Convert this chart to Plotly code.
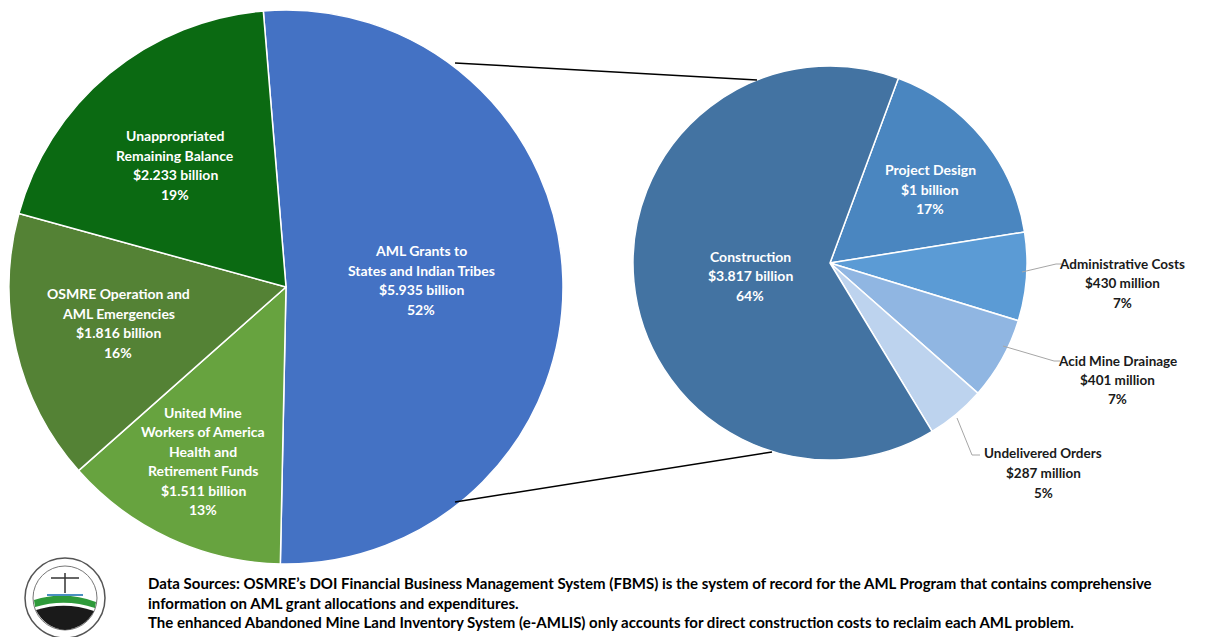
import plotly.graph_objects as go

# ---- Data ----
left_labels = ["AML Grants to<br>States and Indian Tribes",
               "United Mine<br>Workers of America<br>Health and<br>Retirement Funds",
               "OSMRE Operation and<br>AML Emergencies",
               "Unappropriated<br>Remaining Balance"]
left_values = [5.935, 1.511, 1.816, 2.233]          # $ billion
left_pct = [52, 13, 16, 19]
left_colors = ["#4472C4", "#67A33F", "#548235", "#0B6A12"]

right_labels = ["Project Design", "Administrative Costs", "Acid Mine Drainage",
                "Undelivered Orders", "Construction"]
right_values = [1000, 430, 401, 287, 3817]          # $ million
right_text_amounts = ["$1 billion", "$430 million", "$401 million",
                      "$287 million", "$3.817 billion"]
right_pct = [17, 7, 7, 5, 64]
right_colors = ["#4A86C0", "#5B9BD5", "#90B6E2", "#BDD3EE", "#4373A2"]

footnote_lines = [
    "Data Sources: OSMRE\u2019s DOI Financial Business Management System (FBMS) is the system of record for the AML Program that contains comprehensive",
    "information on AML grant allocations and expenditures.",
    "The enhanced Abandoned Mine Land Inventory System (e-AMLIS) only accounts for direct construction costs to reclaim each AML problem.",
]

W, H = 1211, 637
FONT = "Lato"

def px(x):
    return x / W

def py(y):
    return 1 - y / H

fig = go.Figure()

# Left pie: center (286, 287), radius 277
fig.add_trace(go.Pie(
    values=left_values, labels=[l.replace("<br>", " ") for l in left_labels],
    sort=False, direction="clockwise", rotation=-4.7,
    marker=dict(colors=left_colors, line=dict(color="white", width=1.5)),
    textinfo="none", hoverinfo="label+value",
    domain=dict(x=[px(286 - 277), px(286 + 277)], y=[py(287 + 277), py(287 - 277)]),
    showlegend=False,
))

# Right pie: center (830, 263), radius 197
fig.add_trace(go.Pie(
    values=right_values, labels=right_labels,
    sort=False, direction="clockwise", rotation=20.3,
    marker=dict(colors=right_colors, line=dict(color="white", width=1.5)),
    textinfo="none", hoverinfo="label+value",
    domain=dict(x=[px(830 - 197), px(830 + 197)], y=[py(263 + 197), py(263 - 197)]),
    showlegend=False,
))

annotations = []
LINE_H = 19.5

def add_label(x, y, text, color="white", size=14):
    lines = text.split("<br>")
    n = len(lines)
    for i, ln in enumerate(lines):
        yy = y + (i - (n - 1) / 2) * LINE_H
        annotations.append(dict(
            x=px(x), y=py(yy), xref="paper", yref="paper", text=ln, showarrow=False,
            font=dict(family=FONT, size=size, color=color, weight="bold"), align="center",
            xanchor="center", yanchor="middle"))

# left pie labels
left_pos = [(421, 280), (203, 461), (118, 323), (175, 165)]
for (x, y), lab, v, p in zip(left_pos, left_labels, left_values, left_pct):
    add_label(x, y, f"{lab}<br>${v:.3f} billion<br>{p}%")

# right pie labels
right_pos = [(930, 189), (1122, 283), (1117, 380), (1043, 473), (750, 276)]
right_color_txt = ["white", "#1a1a1a", "#1a1a1a", "#1a1a1a", "white"]
right_size = [14, 13.5, 13.5, 13.5, 14]
for (x, y), lab, amt, p, c, s in zip(right_pos, right_labels, right_text_amounts,
                                    right_pct, right_color_txt, right_size):
    add_label(x, y, f"{lab}<br>{amt}<br>{p}%", color=c, size=s)

# footnote
for i, ln in enumerate(footnote_lines):
    annotations.append(dict(
        x=px(146), y=py(583 + i * 19.5), xref="paper", yref="paper", text=ln, showarrow=False,
        font=dict(family=FONT, size=15, color="black", weight="bold"), align="left",
        xanchor="left", yanchor="middle"))

shapes = []

def line(x0, y0, x1, y1, color="black", width=1.5):
    shapes.append(dict(type="line", xref="paper", yref="paper",
                       x0=px(x0), y0=py(y0), x1=px(x1), y1=py(y1),
                       line=dict(color=color, width=width)))

# connector lines between pies
line(455, 63, 757, 80)
line(455, 502, 772, 452)

# leader lines
line(1022, 272, 1056, 264, color="#a6a6a6", width=1)
line(1056, 264, 1062, 264, color="#a6a6a6", width=1)
line(1003, 346, 1054, 361, color="#a6a6a6", width=1)
line(1054, 361, 1060, 361, color="#a6a6a6", width=1)
line(957, 418, 972, 455, color="#a6a6a6", width=1)
line(972, 455, 980, 455, color="#a6a6a6", width=1)

# simplified emblem (bottom-left)
cx, cy, r = 65, 598, 40
shapes.append(dict(type="circle", xref="paper", yref="paper",
                   x0=px(cx - r), x1=px(cx + r), y0=py(cy + r), y1=py(cy - r),
                   line=dict(color="#555555", width=1.5), fillcolor="white"))
shapes.append(dict(type="circle", xref="paper", yref="paper",
                   x0=px(cx - r + 8), x1=px(cx + r - 8), y0=py(cy + r - 8), y1=py(cy - r + 8),
                   line=dict(color="#777777", width=1), fillcolor="white"))
shapes.append(dict(type="path", xref="paper", yref="paper",
                   path=f"M {px(cx-31)} {py(cy+2)} Q {px(cx)} {py(cy-8)} {px(cx+31)} {py(cy+4)} "
                        f"L {px(cx+30)} {py(cy+10)} Q {px(cx)} {py(cy)} {px(cx-30)} {py(cy+9)} Z",
                   line=dict(width=0), fillcolor="#2e9a3a"))
shapes.append(dict(type="path", xref="paper", yref="paper",
                   path=f"M {px(cx-29)} {py(cy+12)} Q {px(cx)} {py(cy+3)} {px(cx+29)} {py(cy+13)} "
                        f"Q {px(cx+20)} {py(cy+30)} {px(cx)} {py(cy+32)} Q {px(cx-20)} {py(cy+30)} {px(cx-29)} {py(cy+12)} Z",
                   line=dict(width=0), fillcolor="#1a1a1a"))
shapes.append(dict(type="path", xref="paper", yref="paper",
                   path=f"M {px(cx-18)} {py(cy-4)} L {px(cx+18)} {py(cy-4)} L {px(cx+18)} {py(cy-2)} L {px(cx-18)} {py(cy-2)} Z",
                   line=dict(width=0), fillcolor="#4a90c0"))
line(cx, cy - 25, cx, cy - 5, color="#333333", width=1.5)
line(cx - 14, cy - 20, cx + 14, cy - 20, color="#333333", width=1.5)

fig.update_layout(
    width=W, height=H,
    margin=dict(l=0, r=0, t=0, b=0),
    paper_bgcolor="white", plot_bgcolor="white",
    annotations=annotations, shapes=shapes,
    font=dict(family=FONT),
)

fig.write_html("out.html")
